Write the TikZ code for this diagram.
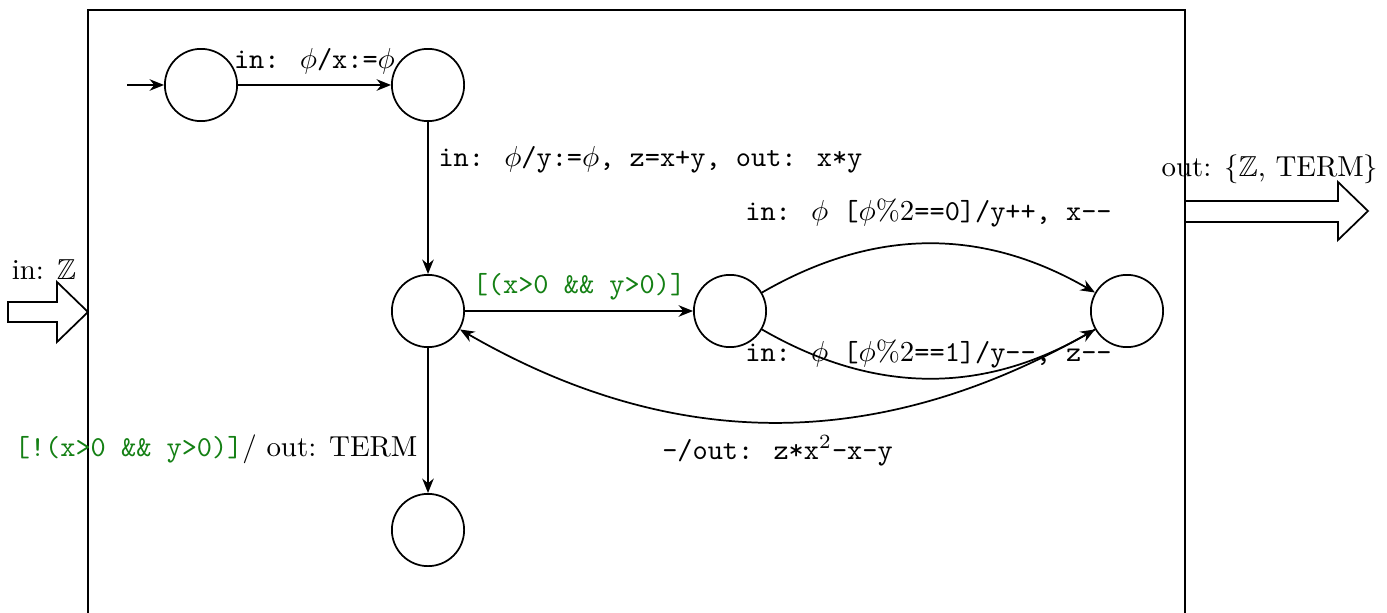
\documentclass[tikz,border=0pt]{standalone}
\usepackage{amssymb}
\usetikzlibrary{arrows.meta}
\definecolor{grn}{RGB}{20,128,20}
\begin{document}
\begin{tikzpicture}[x=0.346pt,y=-0.346pt,
  st/.style={circle,draw,minimum size=25pt,inner sep=0pt,semithick},
  tr/.style={-{Stealth[length=5pt,width=4pt]},semithick},
  bigarrow/.style={draw,semithick,fill=white}]
\useasboundingbox (0,0) rectangle (1387,613);
\draw[semithick] (88,613) -- (88,10) -- (1185,10) -- (1185,613);
\node[st] (s0) at (201,85) {};
\node[st] (s1) at (428,85) {};
\node[st] (s2) at (428,311) {};
\node[st] (s3) at (730,311) {};
\node[st] (s4) at (1127,311) {};
\node[st] (s5) at (428,530) {};
\coordinate (init) at (127,85);
\draw[tr] (init) -- (s0);
\draw[tr] (s0) -- node[above]{\texttt{in: $\phi$/x:=$\phi$}} (s1);
\draw[tr] (s1) -- node[right,pos=0.25]{\texttt{in: $\phi$/y:=$\phi$, z=x+y, out: x*y}} (s2);
\draw[tr] (s2) -- node[above,text=grn]{\texttt{[(x>0 \&\& y>0)]}} (s3);
\draw[tr] (s3) to[bend left=30] node[above=2pt]{\texttt{in: $\phi$ [$\phi\%2$==0]/y++, x-{}-}} (s4);
\draw[tr] (s3) to[bend right=30] node[above]{\texttt{in: $\phi$ [$\phi\%2$==1]/y-{}-, z-{}-}} (s4);
\draw[tr] (s4) to[bend left=30] node[below=1pt]{\texttt{-/out: z*x$^2$-x-y}} (s2);
\draw[tr] (s2) -- node[left,pos=0.7]{\textcolor{grn}{\texttt{[!(x>0 \&\& y>0)]}}/ out: TERM} (s5);
% interface arrows
\draw[bigarrow] (8,302) -- (57,302) -- (57,282) -- (88,312) -- (57,342) -- (57,322) -- (8,322) -- cycle;
\node (inlbl) at (44,270) {in: $\mathbb{Z}$};
\draw[bigarrow] (1185,201) -- (1338,201) -- (1338,182) -- (1368,211) -- (1338,240) -- (1338,222) -- (1185,222) -- cycle;
\node (outlbl) at (1270,169) {out: $\{\mathbb{Z}$, TERM$\}$};
\end{tikzpicture}
\end{document}
